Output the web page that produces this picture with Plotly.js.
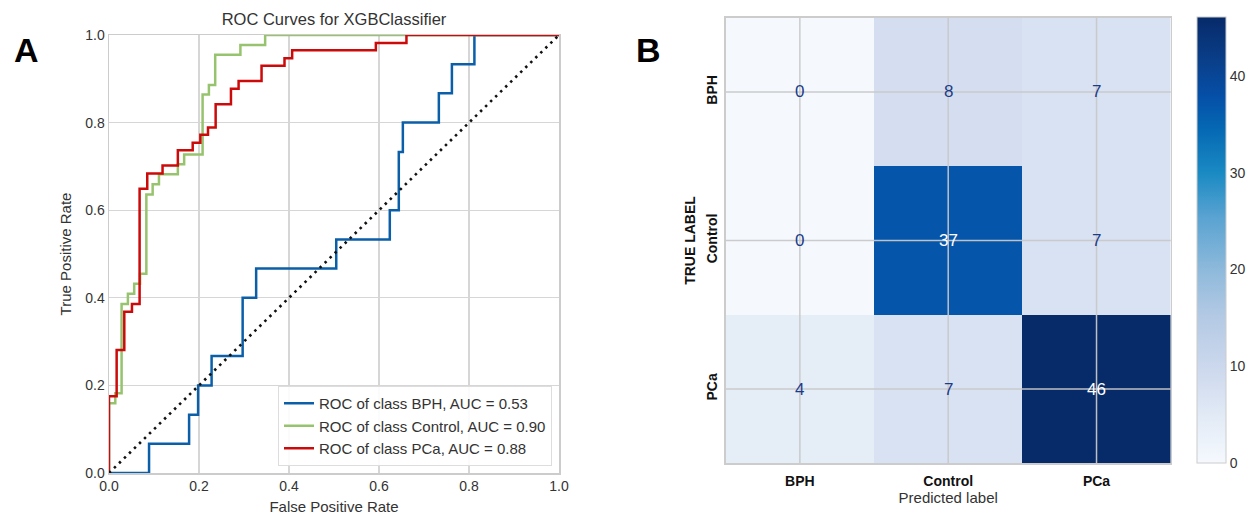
<!DOCTYPE html>
<html>
<head>
<meta charset="utf-8">
<script src="https://cdn.plot.ly/plotly-3.0.1.min.js"></script>
<style>html,body{margin:0;padding:0;background:#fff;}#chart{width:1257px;height:516px;}</style>
</head>
<body>
<div id="chart"></div>
<script>
// ROC data (corner points of step curves)
const bphFpr = [0, 0.089, 0.178, 0.198, 0.228, 0.297, 0.327, 0.505, 0.624, 0.644, 0.653, 0.733, 0.762, 0.812, 1.0];
const bphTpr = [0, 0.067, 0.133, 0.200, 0.267, 0.400, 0.467, 0.533, 0.600, 0.733, 0.800, 0.867, 0.933, 1.0, 1.0];
const ctlFpr = [0, 0, 0.014, 0.028, 0.042, 0.056, 0.069, 0.083, 0.097, 0.111, 0.153, 0.167, 0.208, 0.222, 0.236, 0.292, 0.347, 1.0];
const ctlTpr = [0, 0.159, 0.182, 0.386, 0.409, 0.432, 0.455, 0.636, 0.659, 0.682, 0.705, 0.727, 0.864, 0.886, 0.955, 0.977, 1.0, 1.0];
const pcaFpr = [0, 0, 0.017, 0.034, 0.051, 0.068, 0.085, 0.119, 0.153, 0.186, 0.203, 0.220, 0.237, 0.271, 0.288, 0.339, 0.390, 0.407, 0.593, 0.661, 1.0];
const pcaTpr = [0, 0.175, 0.281, 0.368, 0.386, 0.649, 0.684, 0.702, 0.737, 0.754, 0.772, 0.789, 0.842, 0.877, 0.895, 0.930, 0.947, 0.965, 0.982, 1.0, 1.0];
const rocNames = ["ROC of class BPH, AUC = 0.53", "ROC of class Control, AUC = 0.90", "ROC of class PCa, AUC = 0.88"];
const diagX = [0, 1];
const diagY = [0, 1];

// Confusion matrix
const classes = ["BPH", "Control", "PCa"];
const cmValues = [
  [0, 8, 7],
  [0, 37, 7],
  [4, 7, 46]
];
const cbTicks = [0, 10, 20, 30, 40];

const FONT = "Liberation Sans, Arial, sans-serif";
const W = 1257, H = 516;
const px = v => v / W;
const py = v => 1 - v / H;

const blues = [
  [0.00, '#f5f9fe'],
  [0.10, '#e3ebf6'],
  [0.20, '#cfdaee'],
  [0.33, '#b3c9e4'],
  [0.43, '#8fbadb'],
  [0.55, '#5aa3d2'],
  [0.65, '#1a8ac3'],
  [0.75, '#0568b3'],
  [0.82, '#0550a8'],
  [0.90, '#0a3f8a'],
  [1.00, '#072a69']
];

const traces = [
  {x: bphFpr, y: bphTpr, type: 'scatter', mode: 'lines', line: {shape: 'hv', color: '#0a5fa8', width: 2.5}, name: rocNames[0], xaxis: 'x', yaxis: 'y'},
  {x: ctlFpr, y: ctlTpr, type: 'scatter', mode: 'lines', line: {shape: 'hv', color: '#97c36f', width: 2.5}, name: rocNames[1], xaxis: 'x', yaxis: 'y'},
  {x: pcaFpr, y: pcaTpr, type: 'scatter', mode: 'lines', line: {shape: 'hv', color: '#cc0a0a', width: 2.5}, name: rocNames[2], xaxis: 'x', yaxis: 'y'},
  {x: diagX, y: diagY, type: 'scatter', mode: 'lines', line: {dash: '2.5px,4.5px', color: '#111', width: 2.6}, showlegend: false, hoverinfo: 'skip', xaxis: 'x', yaxis: 'y'},
  {
    z: cmValues, x: classes, y: classes, type: 'heatmap', xaxis: 'x2', yaxis: 'y2',
    colorscale: blues, zmin: 0, zmax: 46, showscale: true, xgap: 0, ygap: 0,
    colorbar: {
      x: px(1197), xanchor: 'left', xref: 'paper', y: py(240.5), yanchor: 'middle',
      thickness: 29, thicknessmode: 'pixels', len: 446, lenmode: 'pixels', xpad: 0, ypad: 0,
      outlinewidth: 1, outlinecolor: '#cccccc', ticks: '', tickvals: cbTicks,
      tickfont: {family: FONT, size: 14, color: '#333'}, ticklabelposition: 'outside'
    },
    showlegend: false
  }
];

const annotations = [
  {text: '<b>A</b>', x: px(26), y: py(50), xref: 'paper', yref: 'paper', showarrow: false, font: {family: FONT, size: 34, color: '#000'}, xanchor: 'center', yanchor: 'middle'},
  {text: '<b>B</b>', x: px(648), y: py(50), xref: 'paper', yref: 'paper', showarrow: false, font: {family: FONT, size: 34, color: '#000'}, xanchor: 'center', yanchor: 'middle'}
];
cmValues.forEach((row, i) => row.forEach((v, j) => {
  annotations.push({
    text: String(v), x: classes[j], y: classes[i], xref: 'x2', yref: 'y2', showarrow: false,
    font: {family: FONT, size: 17, color: v > 23 ? '#ffffff' : '#1c3c8a'}
  });
}));

const shapes = [];
classes.forEach(c => {
  shapes.push({type: 'line', xref: 'x2', yref: 'y2 domain', x0: c, x1: c, y0: 0, y1: 1, line: {color: 'rgba(200,200,200,0.95)', width: 1.5}, layer: 'above'});
  shapes.push({type: 'line', xref: 'x2 domain', yref: 'y2', x0: 0, x1: 1, y0: c, y1: c, line: {color: 'rgba(200,200,200,0.95)', width: 1.5}, layer: 'above'});
});

const layout = {
  width: W, height: H,
  margin: {l: 0, r: 0, t: 0, b: 0},
  paper_bgcolor: '#fff', plot_bgcolor: '#fff',
  font: {family: FONT, color: '#333'},
  title: {text: 'ROC Curves for XGBClassifier', x: px(334), xref: 'paper', xanchor: 'center', y: py(19), yref: 'paper', yanchor: 'middle', font: {family: FONT, size: 16.5, color: '#333'}},
  showlegend: true,
  legend: {
    x: px(552), xanchor: 'right', y: py(466), yanchor: 'bottom', xref: 'paper', yref: 'paper',
    bgcolor: 'rgba(255,255,255,0.9)', bordercolor: '#dddddd', borderwidth: 1,
    font: {family: FONT, size: 15, color: '#333'}, itemwidth: 30, tracegroupgap: 2
  },
  xaxis: {
    domain: [px(109), px(559)], range: [0, 1], dtick: 0.2, tickformat: '.1f',
    showgrid: true, gridcolor: '#d6d6d6', gridwidth: 1.3, zeroline: false,
    showline: true, mirror: true, linecolor: '#cccccc', linewidth: 1.5,
    ticks: '', tickfont: {family: FONT, size: 14, color: '#333'},
    title: {text: 'False Positive Rate', font: {family: FONT, size: 15, color: '#333'}, standoff: 8},
    anchor: 'y'
  },
  yaxis: {
    domain: [py(473), py(35)], range: [0, 1], dtick: 0.2, tickformat: '.1f',
    showgrid: true, gridcolor: '#d6d6d6', gridwidth: 1.3, zeroline: false,
    showline: true, mirror: true, linecolor: '#cccccc', linewidth: 1.5,
    ticks: '', tickfont: {family: FONT, size: 14, color: '#333'},
    title: {text: 'True Positive Rate', font: {family: FONT, size: 15, color: '#333'}, standoff: 10},
    anchor: 'x'
  },
  xaxis2: {
    domain: [px(725.7), px(1170.7)], anchor: 'y2', type: 'category', categoryarray: classes,
    showgrid: false, zeroline: false, showline: true, mirror: true, linecolor: '#cccccc', linewidth: 1.5,
    ticks: 'outside', ticklen: 4, tickcolor: 'rgba(0,0,0,0)', tickfont: {family: FONT, size: 14, color: '#111', weight: 'bold'},
    title: {text: 'Predicted label', font: {family: FONT, size: 15, color: '#333'}, standoff: 5}
  },
  yaxis2: {
    domain: [py(463.3), py(17.7)], anchor: 'x2', type: 'category', categoryarray: classes, autorange: 'reversed',
    showgrid: false, zeroline: false, showline: true, mirror: true, linecolor: '#cccccc', linewidth: 1.5,
    ticks: 'outside', ticklen: 2, tickcolor: 'rgba(0,0,0,0)', tickangle: -90, tickfont: {family: FONT, size: 14, color: '#111', weight: 'bold'},
    title: {text: 'TRUE LABEL', font: {family: FONT, size: 14, color: '#111', weight: 'bold'}, standoff: 4}
  },
  annotations: annotations,
  shapes: shapes
};

Plotly.newPlot('chart', traces, layout, {displayModeBar: false, staticPlot: true});
</script>
</body>
</html>
